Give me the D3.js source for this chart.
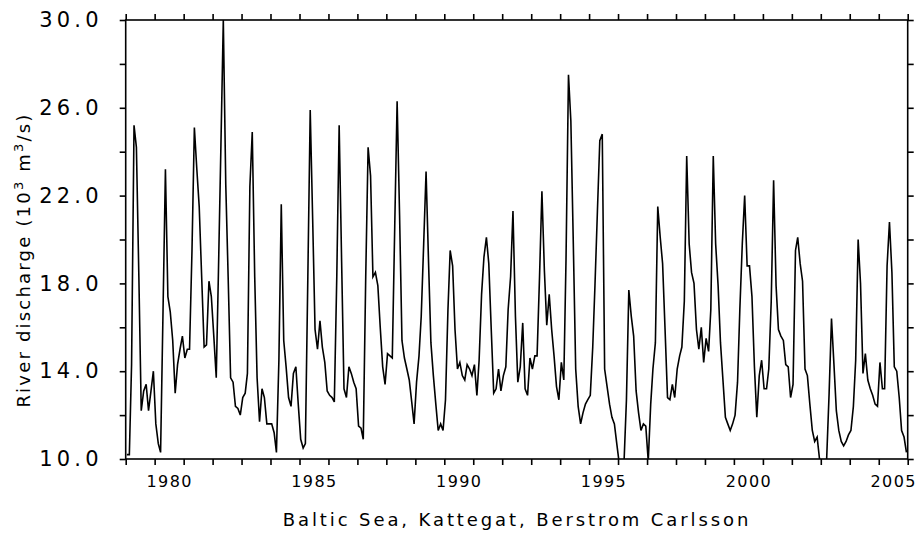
<!DOCTYPE html>
<html>
<head>
<meta charset="utf-8">
<script src="https://cdn.jsdelivr.net/npm/d3@7"></script>
<style>
  body { margin: 0; background: #fff; }
  svg { display: block; }
  text { font-family: "DejaVu Sans", sans-serif; fill: #000; }
</style>
</head>
<body>
<svg id="chart" width="917" height="533"></svg>
<script>
// Monthly river discharge (10^3 m^3/s), January 1979 .. December 2005
const startYear = 1979;
const endYear = 2006;
const discharge = [
  10.2, 10.2, 14.3, 25.2, 24.2, 18.3, 12.2, 13.1, 13.4, 12.2, 13.1, 14.0, // 1979
  11.6, 10.7, 10.3, 16.8, 23.2, 17.4, 16.7, 15.4, 13.0, 14.3, 15.0, 15.6, // 1980
  14.6, 15.0, 15.0, 19.5, 25.1, 23.2, 21.5, 18.3, 15.1, 15.2, 18.1, 17.4, // 1981
  15.6, 13.7, 18.6, 24.3, 30.0, 22.5, 18.3, 13.7, 13.5, 12.4, 12.3, 12.0, // 1982
  12.8, 13.0, 13.9, 22.4, 24.9, 18.3, 13.7, 11.7, 13.2, 12.8, 11.6, 11.6, // 1983
  11.6, 11.2, 10.3, 14.5, 21.6, 15.4, 14.2, 12.8, 12.4, 13.9, 14.2, 12.5, // 1984
  10.9, 10.5, 10.7, 18.3, 25.9, 20.9, 15.9, 15.0, 16.3, 15.1, 14.4, 13.1, // 1985
  12.9, 12.8, 12.6, 18.3, 25.2, 19.0, 13.2, 12.8, 14.2, 13.9, 13.5, 13.2, // 1986
  11.5, 11.4, 10.9, 18.3, 24.2, 22.9, 18.3, 18.5, 17.9, 16.0, 14.2, 13.4, // 1987
  14.8, 14.7, 14.6, 20.6, 26.3, 21.1, 15.4, 14.6, 14.1, 13.6, 12.6, 11.6, // 1988
  13.5, 14.7, 16.5, 19.8, 23.1, 19.0, 15.3, 13.8, 12.5, 11.3, 11.6, 11.3, // 1989
  12.7, 16.8, 19.5, 18.8, 15.9, 14.1, 14.4, 13.8, 13.6, 14.3, 14.1, 13.8, // 1990
  14.3, 12.9, 14.5, 17.5, 19.2, 20.1, 18.9, 15.9, 13.0, 13.2, 14.1, 13.1, // 1991
  13.8, 14.2, 16.8, 18.3, 21.3, 16.5, 13.5, 14.2, 16.2, 13.2, 12.9, 14.6, // 1992
  14.1, 14.7, 14.7, 18.3, 22.2, 18.6, 16.1, 17.5, 15.9, 14.7, 13.3, 12.7, // 1993
  14.4, 13.6, 19.1, 27.5, 25.4, 19.8, 14.1, 12.4, 11.6, 12.1, 12.5, 12.7, // 1994
  12.9, 15.1, 17.9, 21.3, 24.5, 24.8, 14.1, 13.3, 12.5, 11.9, 11.6, 10.7, // 1995
   9.8,  9.4,  9.8, 12.7, 17.7, 16.5, 15.6, 13.1, 12.1, 11.3, 11.6, 11.5, // 1996
   9.9, 12.5, 14.1, 15.3, 21.5, 20.1, 18.9, 15.9, 12.8, 12.7, 13.4, 12.8, // 1997
  14.1, 14.7, 15.1, 17.2, 23.8, 19.8, 18.5, 18.0, 15.9, 15.0, 16.0, 14.4, // 1998
  15.5, 14.9, 16.8, 23.8, 19.8, 17.9, 15.3, 13.6, 11.9, 11.6, 11.3, 11.6, // 1999
  12.0, 13.5, 16.8, 19.8, 22.0, 18.8, 18.8, 17.4, 14.2, 11.9, 13.8, 14.5, // 2000
  13.2, 13.2, 14.1, 17.2, 22.7, 17.9, 15.9, 15.6, 15.4, 14.3, 14.2, 12.8, // 2001
  13.4, 19.5, 20.1, 18.9, 18.1, 14.1, 13.8, 12.5, 11.3, 10.8, 11.0, 10.0, // 2002
   9.5,  9.5, 10.0, 13.0, 16.4, 14.3, 12.2, 11.3, 10.8, 10.6, 10.8, 11.1, // 2003
  11.3, 12.4, 14.5, 20.0, 18.0, 13.9, 14.8, 13.6, 13.2, 12.9, 12.5, 12.4, // 2004
  14.4, 13.2, 13.2, 18.8, 20.8, 18.5, 14.2, 14.0, 12.8, 11.3, 11.0, 10.3  // 2005
];
const yearLabels = [1980, 1985, 1990, 1995, 2000, 2005];
const yTickValues = [10, 12, 14, 16, 18, 20, 22, 24, 26, 28, 30];
const yLabelValues = [10, 14, 18, 22, 26, 30];
const yTitle = ["River discharge (10", "3", " m", "3", "/s)"];
const xTitle = "Baltic Sea, Kattegat, Berstrom Carlsson";

const W = 917, H = 533;
const plot = { left: 125.7, right: 907.7, top: 20, bottom: 459 };

const svg = d3.select("#chart");
svg.append("rect").attr("width", W).attr("height", H).attr("fill", "#fff");

const x = d3.scaleUtc()
  .domain([new Date(Date.UTC(startYear, 0, 1)), new Date(Date.UTC(endYear, 0, 1))])
  .range([plot.left, plot.right]);
const y = d3.scaleLinear().domain([10, 30]).range([plot.bottom, plot.top]);

// one point per month, placed mid-month
const series = discharge.map((v, i) => ({
  date: new Date(Date.UTC(startYear + Math.floor(i / 12), i % 12, 16)),
  value: v
}));

svg.append("clipPath").attr("id", "plot-clip")
  .append("rect")
  .attr("x", plot.left).attr("y", plot.top)
  .attr("width", plot.right - plot.left).attr("height", plot.bottom - plot.top);

const line = d3.line().x(d => x(d.date)).y(d => y(d.value));
svg.append("path")
  .datum(series)
  .attr("clip-path", "url(#plot-clip)")
  .attr("d", line)
  .attr("fill", "none")
  .attr("stroke", "#000")
  .attr("stroke-width", 1.6)
  .attr("stroke-linejoin", "miter");

const yearTicks = x.ticks(d3.utcYear.every(1));

function styleAxis(g) {
  g.select(".domain").remove();
  g.selectAll(".tick line").attr("stroke", "#000").attr("stroke-width", 1.6);
}

// year ticks on bottom and top
svg.append("g")
  .attr("transform", `translate(0,${plot.bottom})`)
  .call(d3.axisBottom(x).tickValues(yearTicks).tickSize(6).tickFormat(""))
  .call(styleAxis);
svg.append("g")
  .attr("transform", `translate(0,${plot.top})`)
  .call(d3.axisTop(x).tickValues(yearTicks).tickSize(6).tickFormat(""))
  .call(styleAxis);

// year labels centred in their year
svg.append("g")
  .attr("transform", `translate(0,${plot.bottom})`)
  .call(d3.axisBottom(x)
    .tickValues(yearLabels.map(yr => new Date(Date.UTC(yr, 6, 2))))
    .tickSize(0).tickPadding(28)
    .tickFormat(d3.utcFormat("%Y")))
  .call(g => {
    g.select(".domain").remove();
    g.selectAll("text").attr("font-size", 16).attr("letter-spacing", 1.4)
      .attr("font-family", "'Liberation Sans', sans-serif").attr("dy", 0);
  });

// value axis on both sides
svg.append("g")
  .attr("transform", `translate(${plot.left},0)`)
  .call(d3.axisLeft(y).tickValues(yTickValues).tickSize(6).tickPadding(17)
    .tickFormat(d => yLabelValues.includes(d) ? d3.format(".1f")(d) : ""))
  .call(styleAxis)
  .call(g => g.selectAll("text").attr("font-size", 21).attr("letter-spacing", 4.2));
svg.append("g")
  .attr("transform", `translate(${plot.right},0)`)
  .call(d3.axisRight(y).tickValues(yTickValues).tickSize(6).tickFormat(""))
  .call(styleAxis);

// frame
svg.append("rect")
  .attr("x", plot.left).attr("y", plot.top)
  .attr("width", plot.right - plot.left).attr("height", plot.bottom - plot.top)
  .attr("fill", "none").attr("stroke", "#000").attr("stroke-width", 1.6);

// axis titles
const yt = svg.append("text")
  .attr("transform", `translate(30,260) rotate(-90)`)
  .attr("text-anchor", "middle")
  .attr("font-size", 18)
  .attr("letter-spacing", 2.2);
yTitle.forEach((s, i) => {
  const t = yt.append("tspan").text(s);
  if (i % 2 === 1) t.attr("baseline-shift", "super").attr("font-size", 13);
});

svg.append("text")
  .attr("x", 517).attr("y", 526)
  .attr("text-anchor", "middle")
  .attr("font-size", 18)
  .attr("letter-spacing", 2.9)
  .attr("font-family", "'Liberation Sans', sans-serif")
  .text(xTitle);
</script>
</body>
</html>
